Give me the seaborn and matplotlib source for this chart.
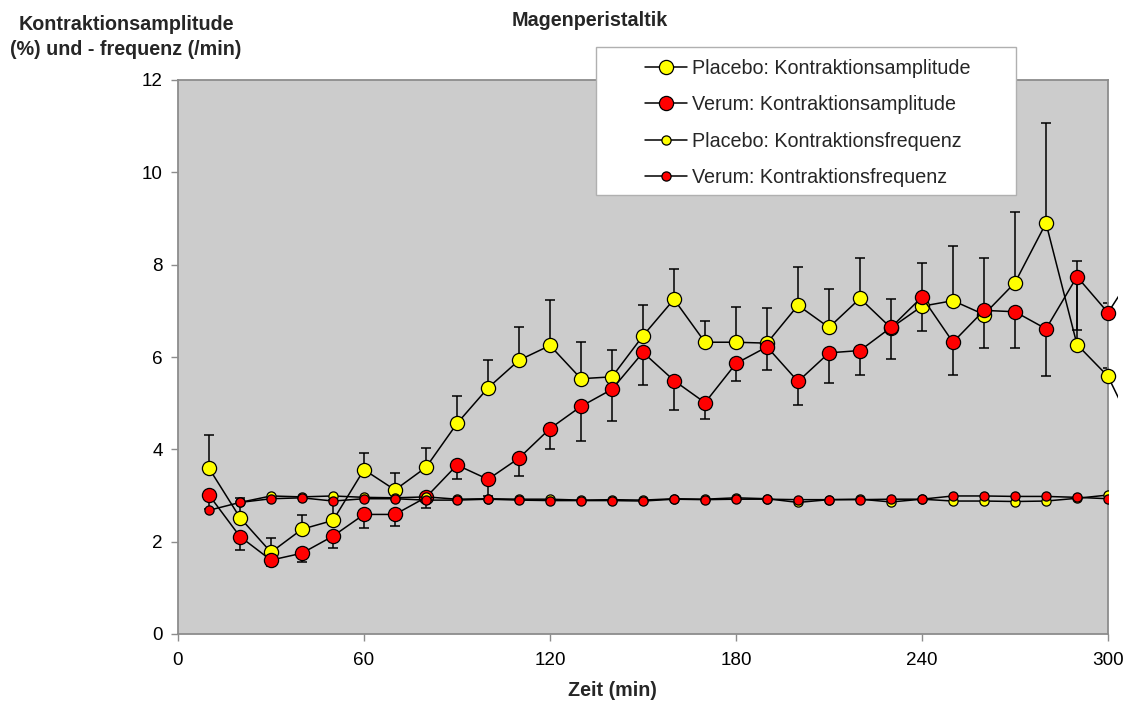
import numpy as np
import pandas as pd
import matplotlib
matplotlib.use("Agg")
import matplotlib.pyplot as plt
from matplotlib.patches import Rectangle
import seaborn as sns

# Messzeitpunkte (min)
zeit = [10, 20, 30, 40, 50, 60, 70, 80, 90, 100, 110, 120, 130, 140, 150,
        160, 170, 180, 190, 200, 210, 220, 230, 240, 250, 260, 270, 280, 290, 300]
# Amplitudenreihen laufen einen Schritt über den Achsenrand hinaus
zeit_amp = zeit + [310]

placebo_amp = [3.59, 2.52, 1.77, 2.27, 2.46, 3.56, 3.12, 3.61, 4.56, 5.33,
               5.93, 6.25, 5.53, 5.57, 6.46, 7.25, 6.32, 6.32, 6.30, 7.12,
               6.64, 7.27, 6.63, 7.10, 7.22, 6.92, 7.61, 8.90, 6.27, 5.58, 4.2]
verum_amp = [3.01, 2.11, 1.60, 1.75, 2.12, 2.59, 2.59, 2.96, 3.66, 3.35,
             3.81, 4.45, 4.93, 5.30, 6.10, 5.49, 5.01, 5.86, 6.22, 5.47,
             6.09, 6.14, 6.64, 7.30, 6.32, 7.01, 6.98, 6.61, 7.74, 6.96, 8.0]

# Standardfehler, getrennt nach Richtung des Fehlerbalkens
placebo_err_up = [0.72, 0.42, 0.30, 0.30, 0.45, 0.36, 0.36, 0.41, 0.59, 0.60,
                  0.72, 0.99, 0.79, 0.59, 0.66, 0.65, 0.45, 0.77, 0.77, 0.84,
                  0.84, 0.88, 0.62, 0.00, 1.18, 0.00, 1.52, 2.16, 1.82, 1.60]
placebo_err_down = [0.00, 0.00, 0.00, 0.00, 0.00, 0.00, 0.00, 0.00, 0.00, 0.00,
                    0.00, 0.00, 0.00, 0.00, 0.00, 0.00, 0.00, 0.00, 0.00, 0.00,
                    0.00, 0.00, 0.00, 0.54, 0.00, 0.73, 0.00, 0.00, 0.00, 0.00]
verum_err_up = [0.00, 0.00, 0.00, 0.00, 0.00, 0.00, 0.00, 0.00, 0.00, 0.00,
                0.00, 0.00, 0.00, 0.00, 0.00, 0.00, 0.00, 0.00, 0.00, 0.00,
                0.00, 0.00, 0.00, 0.73, 0.00, 1.14, 0.00, 0.00, 0.00, 0.00]
verum_err_down = [0.30, 0.28, 0.13, 0.18, 0.25, 0.30, 0.24, 0.22, 0.31, 0.35,
                  0.39, 0.45, 0.76, 0.68, 0.70, 0.63, 0.36, 0.38, 0.50, 0.50,
                  0.65, 0.53, 0.68, 0.00, 0.71, 0.00, 0.79, 1.02, 1.16, 1.20]

placebo_freq = [np.nan, 2.85, 2.99, 2.97, 2.99, 2.96, 2.95, 2.97, 2.92, 2.93,
                2.92, 2.92, 2.90, 2.91, 2.90, 2.93, 2.92, 2.95, 2.93, 2.85,
                2.91, 2.92, 2.86, 2.92, 2.88, 2.88, 2.87, 2.88, 2.94, 3.01]
verum_freq = [2.68, 2.85, 2.93, 2.95, 2.88, 2.93, 2.93, 2.90, 2.90, 2.92,
              2.90, 2.89, 2.89, 2.89, 2.88, 2.92, 2.91, 2.92, 2.92, 2.91,
              2.91, 2.91, 2.92, 2.92, 2.99, 2.99, 2.98, 2.98, 2.96, 2.93]

x_ticks = [0, 60, 120, 180, 240, 300]
y_ticks = [0, 2, 4, 6, 8, 10, 12]

labels = ["Placebo: Kontraktionsamplitude", "Verum: Kontraktionsamplitude",
          "Placebo: Kontraktionsfrequenz", "Verum: Kontraktionsfrequenz"]

df_amp = pd.DataFrame({"Zeit": zeit_amp, "Placebo": placebo_amp, "Verum": verum_amp})
df_freq = pd.DataFrame({"Zeit": zeit, "Placebo": placebo_freq, "Verum": verum_freq})

sns.set_theme(style="ticks")
plt.rcParams["font.family"] = ["Liberation Sans", "DejaVu Sans"]

W, H = 1125, 702
fig = plt.figure(figsize=(W / 100, H / 100), dpi=100)
fig.patch.set_facecolor("white")
ax = fig.add_axes([178 / W, 1 - 634 / H, 930 / W, 554 / H])
ax.set_facecolor("#CCCCCC")

YELLOW = "#FFFF00"
RED = "#FF0000"
LW = 1.1

# Fehlerbalken (unter den Markern)
err_kw = dict(fmt="none", ecolor="black", elinewidth=LW, capsize=3.6,
              capthick=LW, zorder=2)
n = len(zeit)
ax.errorbar(zeit, placebo_amp[:n], yerr=[placebo_err_down, placebo_err_up], **err_kw)
ax.errorbar(zeit, verum_amp[:n], yerr=[verum_err_down, verum_err_up], **err_kw)

# Etwas über den rechten Achsenrand hinausreichender Clip-Bereich
clip_rect = Rectangle((0, 0), 1.011, 1, transform=ax.transAxes)

series = [
    (df_amp, "Placebo", YELLOW, 10.2, labels[0], True),
    (df_amp, "Verum", RED, 10.2, labels[1], True),
    (df_freq, "Placebo", YELLOW, 6.6, labels[2], False),
    (df_freq, "Verum", RED, 6.6, labels[3], False),
]
handles = []
for i, (df, col, fc, ms, lab, extend) in enumerate(series):
    sns.lineplot(data=df, x="Zeit", y=col, ax=ax, color="black", linewidth=LW,
                 marker="o", markersize=ms, markerfacecolor=fc,
                 markeredgecolor="black", markeredgewidth=0.9, label=lab,
                 zorder=3 + i, errorbar=None, sort=False)
    line = ax.lines[-1]
    if extend:
        line.set_clip_path(clip_rect)
    handles.append(line)

if ax.get_legend() is not None:
    ax.get_legend().remove()

ax.set_xlim(0, 300)
ax.set_ylim(0, 12)
ax.set_xticks(x_ticks)
ax.set_yticks(y_ticks)
ax.set_xlabel("")
ax.set_ylabel("")
for s in ax.spines.values():
    s.set_visible(True)
    s.set_color("#8C8C8C")
    s.set_linewidth(1.3)
ax.tick_params(axis="both", direction="out", length=5, width=1,
               color="#8C8C8C", labelsize=13.6, labelcolor="black")
ax.tick_params(axis="x", pad=8)
ax.tick_params(axis="y", pad=6)

# Titel und Achsenbeschriftungen
fig.text(590 / W, 1 - 20 / H, "Magenperistaltik", ha="center", va="center",
         fontsize=14.2, fontweight="bold")
fig.text(126 / W, 1 - 37 / H, "Kontraktionsamplitude\n(%) und - frequenz (/min)",
         ha="center", va="center", fontsize=14.2, fontweight="bold",
         linespacing=1.35)
fig.text(612 / W, 1 - 690 / H, "Zeit (min)", ha="center", va="center",
         fontsize=14.2, fontweight="bold")

# Legendenkasten
box = Rectangle((596 / W, 1 - 195 / H), 420 / W, 148 / H, transform=fig.transFigure,
                facecolor="white", edgecolor="#B0B0B0", linewidth=1, zorder=1)
fig.add_artist(box)
fig.legend(handles, labels, loc="center left",
           bbox_to_anchor=(645 / W, 1 - 123 / H), frameon=False, fontsize=14.2,
           borderpad=0, borderaxespad=0, handlelength=2.13, handletextpad=0.26,
           labelspacing=0.88, numpoints=1)

fig.savefig("out.png", dpi=100)
